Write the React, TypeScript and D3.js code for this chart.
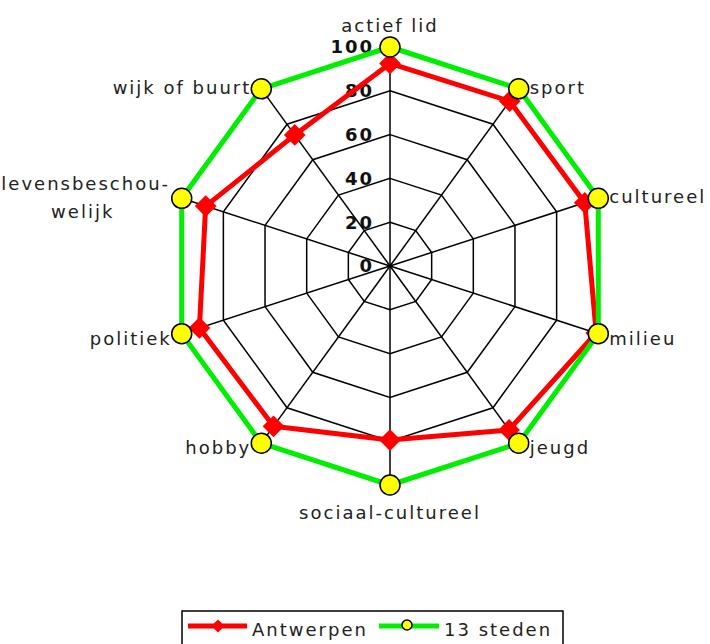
import React from "react";
import * as d3 from "d3";

const categories = ["actief lid", "sport", "cultureel", "milieu", "jeugd", "sociaal-cultureel", "hobby", "politiek", "levensbeschou-\nwelijk", "wijk of buurt"];
const antwerpen = [92.5, 93, 93.5, 99, 92.5, 79.5, 90.5, 91.5, 88.5, 74];
const steden = [100, 100, 100, 100, 100, 100, 100, 100, 100, 100];
const tickValues = [0, 20, 40, 60, 80, 100];
const gridValues = [20, 40, 60, 80, 100];
const seriesNames = ["Antwerpen", "13 steden"];

const W = 710, H = 644;
const cx = 390, cy = 266, R = 219;
const FONT = "'DejaVu Sans', Verdana, sans-serif";

export default function App() {
  const r = d3.scaleLinear().domain([0, 100]).range([0, R]);
  const n = categories.length;
  const ang = d3.scaleLinear().domain([0, n]).range([0, 2 * Math.PI]);
  const pt = (i: number, v: number): [number, number] => {
    const a = ang(i);
    return [cx + r(v) * Math.sin(a), cy - r(v) * Math.cos(a)];
  };
  const closed = d3.line<[number, number]>().curve(d3.curveLinearClosed);
  const ringPath = (v: number) => closed(categories.map((_, i) => pt(i, v)))!;
  const seriesPath = (vals: number[]) => closed(vals.map((v, i) => pt(i, v)))!;
  const diamond = d3.symbol().type(d3.symbolDiamond2 || d3.symbolDiamond);

  const labels = categories.map((c, i) => {
    const a = ang(i);
    const [x, y] = pt(i, 100);
    const s = Math.sin(a), co = Math.cos(a);
    const lines = c.split("\n");
    if (lines.length > 1) {
      return (
        <text key={c} x={x - 98} y={y - 8} textAnchor="middle" fontFamily={FONT} fontSize={18} letterSpacing={2} fill="#222">
          {lines.map((l, k) => (
            <tspan key={k} x={x - (k === 0 ? 96 : 99)} dy={k === 0 ? 0 : 28}>{l}</tspan>
          ))}
        </text>
      );
    }
    let anchor = "middle", dx = 0, dy = 0;
    if (s > 0.1) { anchor = "start"; dx = 11; dy = co > 0 ? 5 : 11; }
    else if (s < -0.1) { anchor = "end"; dx = -10; dy = co > 0 ? 5 : 11; }
    else if (co > 0) { dy = -15; }
    else { dy = 34; }
    return (
      <text key={c} x={x + dx} y={y + dy} textAnchor={anchor} fontFamily={FONT} fontSize={18} letterSpacing={2} fill="#222">{c}</text>
    );
  });

  return (
    <div style={{ position: "absolute", left: 0, top: 0 }}>
      <svg width={W} height={H} style={{ display: "block" }}>
        <rect width={W} height={H} fill="#fff" />
        {gridValues.map(v => (
          <path key={v} d={ringPath(v)} fill="none" stroke="#000" strokeWidth={1.5} />
        ))}
        {categories.map((c, i) => {
          const [x, y] = pt(i, 100);
          return <line key={c} x1={cx} y1={cy} x2={x} y2={y} stroke="#000" strokeWidth={1.5} />;
        })}
        {tickValues.map(v => (
          <text key={v} x={cx - 16} y={cy - r(v)} dy="0.36em" textAnchor="end" fontFamily={FONT} fontSize={18} fontWeight="bold" letterSpacing={2} fill="#111">{v}</text>
        ))}
        <path d={seriesPath(antwerpen)} fill="none" stroke="#ff0000" strokeWidth={5} strokeLinejoin="round" />
        {antwerpen.map((v, i) => {
          const [x, y] = pt(i, v);
          return <path key={i} d={diamond.size(300)()!} transform={`translate(${x},${y})`} fill="#ff0000" />;
        })}
        <path d={seriesPath(steden)} fill="none" stroke="#00ee00" strokeWidth={5} strokeLinejoin="round" />
        {steden.map((v, i) => {
          const [x, y] = pt(i, v);
          return <circle key={i} cx={x} cy={y} r={10} fill="#ffff00" stroke="#000" strokeWidth={1.5} />;
        })}
        {labels}
        <rect x={182} y={611} width={381} height={45} fill="#fff" stroke="#000" strokeWidth={1.5} />
        <line x1={188} x2={247} y1={626} y2={626} stroke="#ff0000" strokeWidth={5} />
        <path d={diamond.size(110)()!} transform="translate(218,626)" fill="#ff0000" />
        <text x={252} y={636} fontFamily={FONT} fontSize={18} letterSpacing={2} fill="#222">{seriesNames[0]}</text>
        <line x1={379} x2={439} y1={626} y2={626} stroke="#00ee00" strokeWidth={5} />
        <circle cx={407} cy={625} r={5} fill="#ffff00" stroke="#000" strokeWidth={1.5} />
        <text x={444} y={636} fontFamily={FONT} fontSize={18} letterSpacing={2} fill="#222">{seriesNames[1]}</text>
      </svg>
    </div>
  );
}
